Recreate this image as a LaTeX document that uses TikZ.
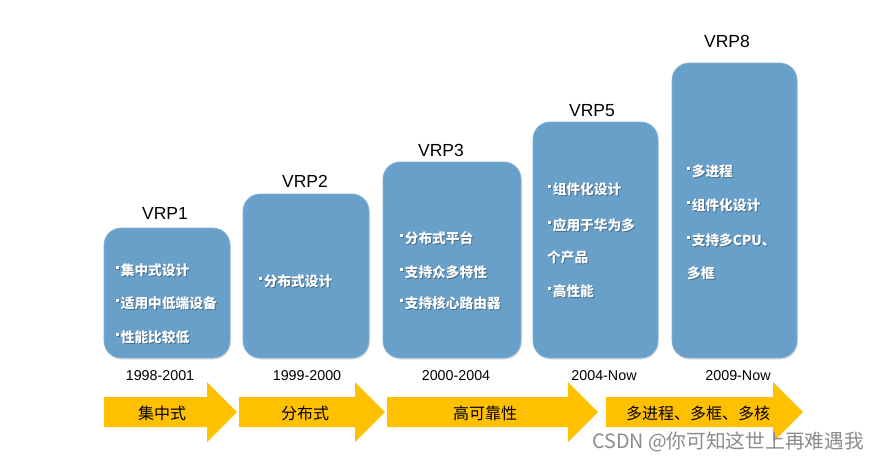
\documentclass[tikz,border=0pt]{standalone}
\usepackage{fontspec}
\setmainfont{Liberation Sans}
\newfontfamily\cjk{Noto Sans CJK SC}
\usetikzlibrary{shadows}
\definecolor{boxblue}{RGB}{105,160,201}
\definecolor{arrowgold}{RGB}{255,192,0}
\definecolor{wmgray}{RGB}{140,140,140}
\newcommand\bul{\raisebox{6.3pt}{\rule{3pt}{3pt}}\hspace{1.6pt}}
\newcommand\bline[4]{%
  \node[btsh] at (#2+1,#3+1.2) {#4};
  \node[btxt] (#1) at (#2,#3) {#4};}
\newcommand\yarrow[4]{%
  \fill[arrowgold] (#2,397) -- (#3,397) -- (#3,382) -- (#4,412) -- (#3,442) -- (#3,427) -- (#2,427) -- cycle;
  \coordinate (#1) at (#2,412);}
\begin{document}
\begin{tikzpicture}[x=1pt,y=-1pt,
  vbox/.style={draw=boxblue!80!white, line width=0.6pt, fill=boxblue, rounded corners=17pt,
    inner sep=0pt, general shadow={shadow xshift=0.8pt, shadow yshift=-1.5pt, fill=black, opacity=0.12}},
  btxt/.style={anchor=base west, inner sep=0pt, text=white, font=\cjk\bfseries\fontsize{13.7}{13.7}\selectfont},
  btsh/.style={anchor=base west, inner sep=0pt, text=black, opacity=0.3, font=\cjk\bfseries\fontsize{13.7}{13.7}\selectfont},
  ttl/.style={anchor=base, inner sep=0pt, font=\fontsize{17.5}{17.5}\selectfont},
  dt/.style={anchor=base, inner sep=0pt, font=\fontsize{14.3}{14.3}\selectfont},
  atxt/.style={anchor=base, inner sep=0pt, font=\cjk\fontsize{16}{16}\selectfont}]
\useasboundingbox (0,0) rectangle (878,459);
\fill[white] (0,0) rectangle (878,459);

% boxes
\node[vbox, minimum width=126pt, minimum height=130pt] (b1) at (167,293) {};
\node[vbox, minimum width=126pt, minimum height=164pt] (b2) at (306,276) {};
\node[vbox, minimum width=138pt, minimum height=196pt] (b3) at (452,260) {};
\node[vbox, minimum width=125pt, minimum height=236pt] (b5) at (595.5,240) {};
\node[vbox, minimum width=125pt, minimum height=295pt] (b8) at (734.5,210.5) {};

% titles
\node[ttl] (t1) at (165,219.3) {VRP1};
\node[ttl] (t2) at (305,187.3) {VRP2};
\node[ttl] (t3) at (441,156.3) {VRP3};
\node[ttl] (t5) at (592,116.3) {VRP5};
\node[ttl] (t8) at (727,47.3) {VRP8};

% dates
\node[dt] (d1) at (160,380) {1998-2001};
\node[dt] (d2) at (307,380) {1999-2000};
\node[dt] (d3) at (456,380) {2000-2004};
\node[dt] (d5) at (604,380) {2004-Now};
\node[dt] (d8) at (738,380) {2009-Now};

% box texts
\bline{l11}{116}{275}{\bul 集中式设计}
\bline{l12}{116}{308}{\bul 适用中低端设备}
\bline{l13}{116}{342}{\bul 性能比较低}

\bline{l21}{259}{286}{\bul 分布式设计}

\bline{l31}{400}{243}{\bul 分布式平台}
\bline{l32}{400}{277}{\bul 支持众多特性}
\bline{l33}{400}{308}{\bul 支持核心路由器}

\bline{l51}{548}{194}{\bul 组件化设计}
\bline{l52}{548}{230}{\bul 应用于华为多}
\bline{l53}{547}{262}{个产品}
\bline{l54}{548}{296}{\bul 高性能}

\bline{l81}{687}{176}{\bul 多进程}
\bline{l82}{687}{210}{\bul 组件化设计}
\bline{l83}{687}{245}{\bul 支持多CPU、}
\bline{l84}{687}{278}{多框}

% arrows
\yarrow{a1}{104}{207}{237}
\yarrow{a2}{239}{355}{385}
\yarrow{a3}{387}{568}{598}
\yarrow{a4}{606}{773}{803}
\node[atxt] (s1) at (162,419) {集中式};
\node[atxt] (s2) at (305,419) {分布式};
\node[atxt] (s3) at (485,419) {高可靠性};
\node[atxt] (s4) at (698,419) {多进程、多框、多核};

% watermark
\node[anchor=base west, inner sep=0pt, text=wmgray, font=\cjk\fontsize{19.7}{19.7}\selectfont] (wm) at (592,448) {CSDN @你可知这世上再难遇我};
\end{tikzpicture}
\end{document}
